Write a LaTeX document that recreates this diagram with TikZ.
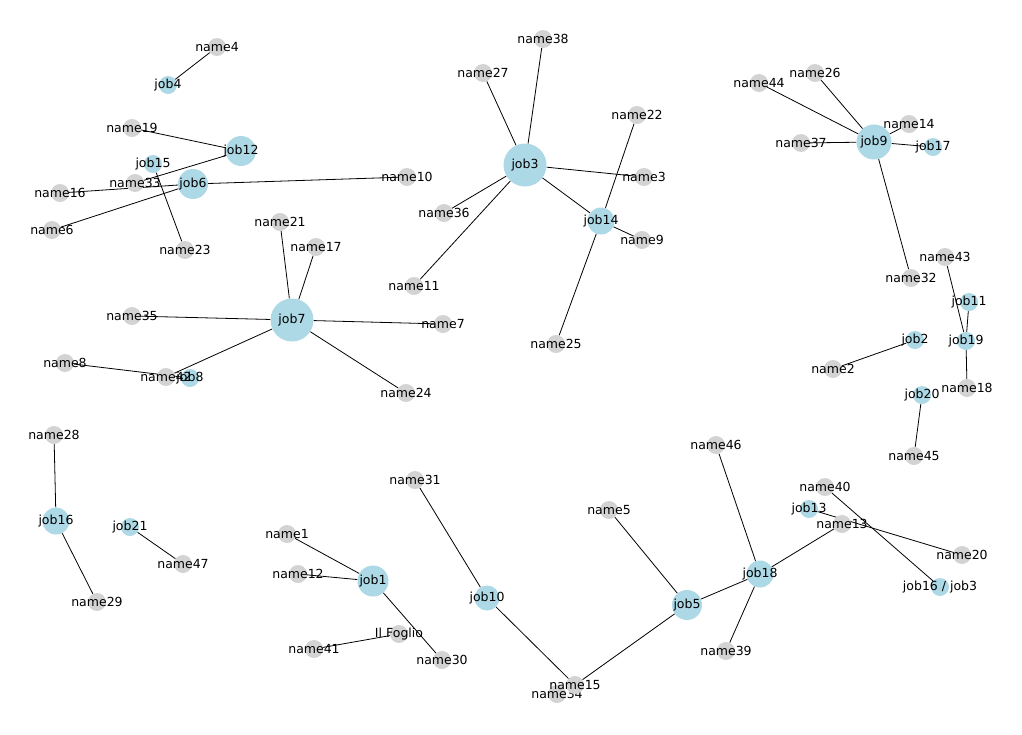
\documentclass[tikz,border=0pt]{standalone}
\usepackage{fontspec}
\setmainfont{DejaVu Sans}
\usetikzlibrary{backgrounds}
\definecolor{jobblue}{RGB}{173,216,230}
\definecolor{namegray}{RGB}{211,211,211}

\begin{document}
\begin{tikzpicture}[
  x=1pt, y=-1pt,
  font=\fontsize{12.5}{14}\selectfont,
  lbl/.style={inner sep=0pt, text=black},
  nm/.style={circle, fill=namegray, minimum size=18pt, inner sep=0pt, label={[lbl]center:#1}},
  jb/.style={circle, fill=jobblue, minimum size=18pt, inner sep=0pt, label={[lbl]center:#1}},
  edge/.style={line width=0.8pt, black},
  ]
  \useasboundingbox (0,0) rectangle (1022,734);
  % top left: job4, job12, job6, job15
  \node[nm=name4] (name4) at (217,47) {};
  \node[jb=job4] (job4) at (168,85) {};
  \node[nm=name19] (name19) at (132,128) {};
  \node[jb=job15] (job15) at (153,164) {};
  \node[nm=name33] (name33) at (135,183) {};
  \node[nm=name16] (name16) at (60,193) {};
  \node[nm=name6] (name6) at (52,230) {};
  \node[nm=name23] (name23) at (185,250) {};
  \node[nm=name10] (name10) at (407,177) {};
  \node[jb=job12, minimum size=30pt] (job12) at (241,151) {};
  \node[jb=job6, minimum size=30pt] (job6) at (193,184) {};
  % job3 star with job14
  \node[nm=name38] (name38) at (543,39) {};
  \node[nm=name27] (name27) at (483,73) {};
  \node[nm=name22] (name22) at (637,115) {};
  \node[nm=name3] (name3) at (644,177) {};
  \node[nm=name36] (name36) at (444,213) {};
  \node[nm=name9] (name9) at (642,240) {};
  \node[nm=name11] (name11) at (414,286) {};
  \node[nm=name25] (name25) at (556,344) {};
  \node[jb=job3, minimum size=43pt] (job3) at (525,165) {};
  \node[jb=job14, minimum size=27pt] (job14) at (601,221) {};
  % job7 star
  \node[nm=name21] (name21) at (280,222) {};
  \node[nm=name17] (name17) at (316,247) {};
  \node[nm=name35] (name35) at (132,316) {};
  \node[nm=name7] (name7) at (443,324) {};
  \node[nm=name8] (name8) at (65,363) {};
  \node[nm=name24] (name24) at (406,393) {};
  \node[jb=job8] (job8) at (190,378) {};
  \node[nm=name42] (name42) at (166,377) {};
  \node[jb=job7, minimum size=43pt] (job7) at (292,320) {};
  % right: job9, job19, job2, job20
  \node[nm=name26] (name26) at (815,73) {};
  \node[nm=name44] (name44) at (759,83) {};
  \node[nm=name14] (name14) at (909,124) {};
  \node[nm=name37] (name37) at (801,143) {};
  \node[nm=name32] (name32) at (911,278) {};
  \node[jb=job17] (job17) at (933,147) {};
  \node[jb=job9, minimum size=35pt] (job9) at (874,142) {};
  \node[nm=name43] (name43) at (945,257) {};
  \node[nm=name2] (name2) at (833,369) {};
  \node[nm=name18] (name18) at (967,388) {};
  \node[nm=name45] (name45) at (914,456) {};
  \node[jb=job11] (job11) at (969,302) {};
  \node[jb=job19] (job19) at (966,341) {};
  \node[jb=job2] (job2) at (915,340) {};
  \node[jb=job20] (job20) at (922,395) {};
  % bottom left: job16, job21, job1
  \node[nm=name28] (name28) at (54,435) {};
  \node[nm=name29] (name29) at (97,602) {};
  \node[nm=name47] (name47) at (183,564) {};
  \node[jb=job16, minimum size=27pt] (job16) at (56,521) {};
  \node[jb=job21] (job21) at (130,527) {};
  \node[nm=name1] (name1) at (287,534) {};
  \node[nm=name12] (name12) at (298,574) {};
  \node[nm=name41] (name41) at (314,649) {};
  \node[nm=name30] (name30) at (442,660) {};
  \node[nm=Il Foglio] (ilfoglio) at (399,634) {};
  \node[jb=job1, minimum size=31pt] (job1) at (373,581) {};
  % bottom right: job10, job5, job18, job13
  \node[nm=name31] (name31) at (415,480) {};
  \node[nm=name34] (name34) at (557,694) {};
  \node[nm=name15] (name15) at (575,685) {};
  \node[nm=name5] (name5) at (609,510) {};
  \node[nm=name46] (name46) at (716,445) {};
  \node[nm=name39] (name39) at (726,651) {};
  \node[nm=name40] (name40) at (825,487) {};
  \node[nm=name20] (name20) at (962,555) {};
  \node[jb=job13] (job13) at (809,509) {};
  \node[nm=name13] (name13) at (842,524) {};
  \node[jb=job16 / job3] (job16job3) at (940,587) {};
  \node[jb=job10, minimum size=25pt] (job10) at (487,598) {};
  \node[jb=job5, minimum size=30pt] (job5) at (687,605) {};
  \node[jb=job18, minimum size=27pt] (job18) at (760,574) {};
  % edges behind the nodes
  \begin{scope}[on background layer]
    \draw[edge] (job4) -- (name4);
    \draw[edge] (job12) -- (name19);
    \draw[edge] (job12) -- (name33);
    \draw[edge] (job6) -- (name16);
    \draw[edge] (job6) -- (name6);
    \draw[edge] (job6) -- (name10);
    \draw[edge] (job15) -- (name23);
    \draw[edge] (job3) -- (name27);
    \draw[edge] (job3) -- (name38);
    \draw[edge] (job3) -- (name3);
    \draw[edge] (job3) -- (name36);
    \draw[edge] (job3) -- (name11);
    \draw[edge] (job3) -- (job14);
    \draw[edge] (job14) -- (name22);
    \draw[edge] (job14) -- (name9);
    \draw[edge] (job14) -- (name25);
    \draw[edge] (job9) -- (name44);
    \draw[edge] (job9) -- (name26);
    \draw[edge] (job9) -- (name14);
    \draw[edge] (job9) -- (name37);
    \draw[edge] (job9) -- (job17);
    \draw[edge] (job9) -- (name32);
    \draw[edge] (job19) -- (name43);
    \draw[edge] (job19) -- (job11);
    \draw[edge] (job19) -- (name18);
    \draw[edge] (job2) -- (name2);
    \draw[edge] (job20) -- (name45);
    \draw[edge] (job7) -- (name21);
    \draw[edge] (job7) -- (name17);
    \draw[edge] (job7) -- (name35);
    \draw[edge] (job7) -- (name7);
    \draw[edge] (job7) -- (name24);
    \draw[edge] (job7) -- (name42);
    \draw[edge] (job8) -- (name8);
    \draw[edge] (job16) -- (name28);
    \draw[edge] (job16) -- (name29);
    \draw[edge] (job21) -- (name47);
    \draw[edge] (job1) -- (name1);
    \draw[edge] (job1) -- (name12);
    \draw[edge] (job1) -- (name30);
    \draw[edge] (ilfoglio) -- (name41);
    \draw[edge] (job10) -- (name31);
    \draw[edge] (job10) -- (name15);
    \draw[edge] (job5) -- (name15);
    \draw[edge] (job5) -- (name5);
    \draw[edge] (job5) -- (job18);
    \draw[edge] (job18) -- (name46);
    \draw[edge] (job18) -- (name39);
    \draw[edge] (job18) -- (name13);
    \draw[edge] (job13) -- (name20);
    \draw[edge] (name40) -- (job16job3);
  \end{scope}
\end{tikzpicture}
\end{document}
